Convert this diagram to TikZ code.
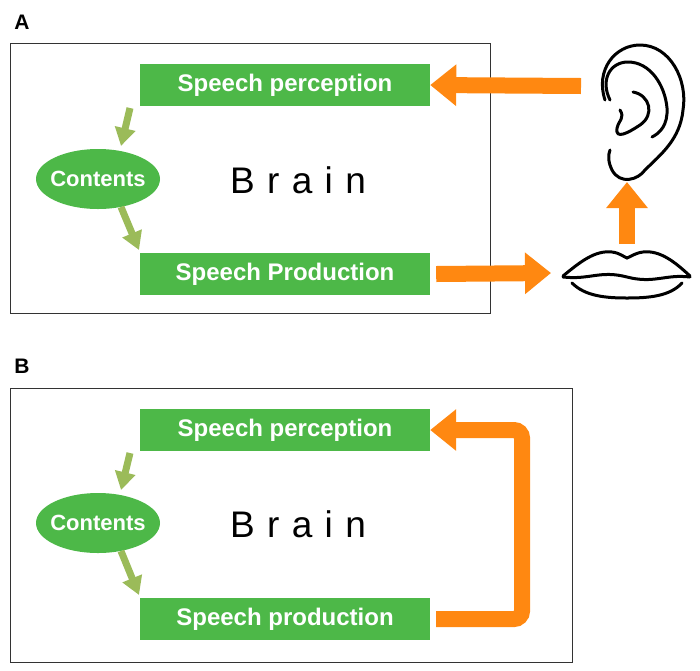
\documentclass[tikz,border=0pt]{standalone}
\usepackage{fontspec}
\setmainfont{Liberation Sans}
\usetikzlibrary{shapes.geometric,arrows.meta}
\definecolor{gr}{HTML}{4DB848}
\definecolor{ol}{HTML}{9BBB59}
\definecolor{org}{HTML}{FF8811}
\begin{document}
\begin{tikzpicture}[x=1pt,y=-1pt,
 box/.style={draw=black!80,line width=1pt},
 gbox/.style={fill=gr,text=white,font=\fontsize{24}{28}\selectfont\bfseries,minimum width=290,minimum height=42,inner sep=0},
 ell/.style={ellipse,fill=gr,text=white,font=\fontsize{22}{26}\selectfont\bfseries,minimum width=124,minimum height=60,inner xsep=-6,inner ysep=0},
 brain/.style={font=\fontsize{37}{44}\selectfont},
 lab/.style={font=\fontsize{21}{24}\selectfont\bfseries},
 garr/.style={draw=ol,line width=7,-{Triangle[width=20,length=18]}},
 oarr/.style={draw=org,line width=16,-{Triangle[width=40,length=26]}},
 sk/.style={line width=3pt,line cap=round}]
\useasboundingbox (0,0) rectangle (700,670);
% Panel A
\node[lab] (la) at (22,22) {A};
\draw[box] (10,43) rectangle (490,313);
\node[gbox] (pa) at (285,85) {Speech perception};
\node[gbox] (sa) at (285,274) {Speech Production};
\node[ell] (ca) at (98,179) {Contents};
\node[brain] (ba) at (298,180) {B\,\,r\,\,a\,\,i\,\,n};
\draw[garr] (130,108) -- (121,146);
\draw[garr] (121,207) -- (139,250);
\coordinate (ear) at (581,86);
\coordinate (lipsL) at (551,273);
\coordinate (lipsT) at (627,244);
\coordinate (earB) at (627,182);
\draw[oarr] (ear) -- (pa.east);
\draw[oarr] ([xshift=6]sa.east) -- (lipsL);
\draw[oarr] (lipsT) -- (earB);
% ear
\draw[sk] (605,100) .. controls (595,70) and (615,45) .. (640,45) .. controls (670,45) and (688,80) .. (683,110) .. controls (680,140) and (660,155) .. (645,170) .. controls (638,180) and (620,185) .. (612,170) .. controls (608,162) and (608,155) .. (610,150);
\draw[sk] (610,100) .. controls (600,80) and (610,62) .. (628,62) .. controls (650,62) and (665,85) .. (667,108) .. controls (668,125) and (660,133) .. (652,137);
\draw[sk] (633,92) .. controls (650,95) and (655,115) .. (640,125) .. controls (628,133) and (615,140) .. (617,128) .. controls (619,120) and (625,118) .. (620,110);
% lips
\draw[sk] (563,276) .. controls (580,262) and (595,250) .. (612,252) .. controls (620,253) and (624,257) .. (627,258) .. controls (630,257) and (635,253) .. (643,252) .. controls (660,250) and (675,262) .. (690,276);
\draw[sk] (563,277) .. controls (590,280) and (600,270) .. (627,277) .. controls (654,284) and (665,274) .. (690,277);
\draw[sk] (572,283) .. controls (585,296) and (605,298) .. (627,298) .. controls (650,298) and (670,296) .. (682,283);
% Panel B
\node[lab] (lb) at (22,366) {B};
\draw[box] (10,388) rectangle (572,662);
\node[gbox] (pb) at (285,430) {Speech perception};
\node[gbox] (sb) at (285,619) {Speech production};
\node[ell] (cb) at (98,523) {Contents};
\node[brain] (bb) at (298,524) {B\,\,r\,\,a\,\,i\,\,n};
\draw[garr] (130,453) -- (121,490);
\draw[garr] (121,551) -- (139,595);
\draw[oarr,rounded corners=8] ([xshift=6]sb.east) -- (522,619) -- (522,430) -- (pb.east);
\end{tikzpicture}
\end{document}
